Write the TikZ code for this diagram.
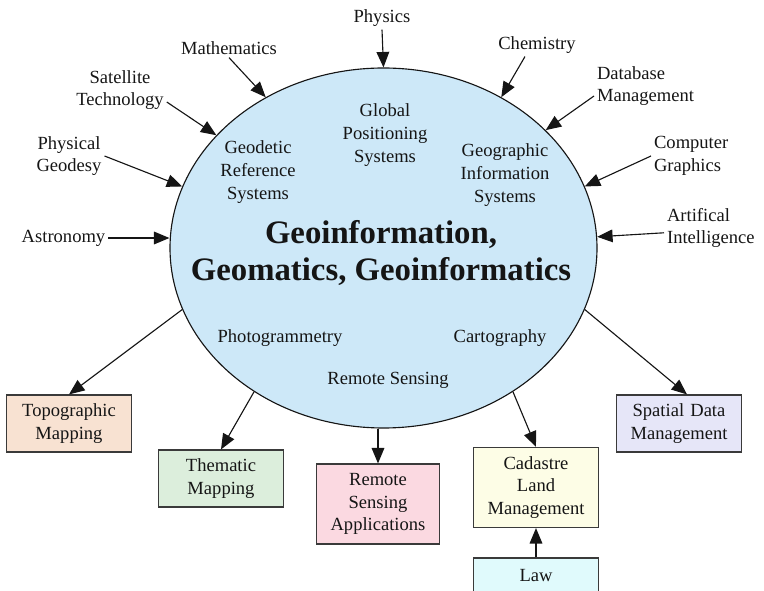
\documentclass[tikz,border=0pt]{standalone}
\usepackage{fontspec}
\setmainfont{Liberation Serif}
\usetikzlibrary{arrows.meta,shapes.geometric,positioning}
\definecolor{ink}{HTML}{151515}
\definecolor{line}{HTML}{3A3A3A}
\definecolor{corefill}{HTML}{CDE8F8}
\definecolor{topofill}{HTML}{F8E2D2}
\definecolor{themafill}{HTML}{DCEEDC}
\definecolor{rsafill}{HTML}{FBD9E1}
\definecolor{cadfill}{HTML}{FDFDE6}
\definecolor{sdmfill}{HTML}{E6E6F8}
\definecolor{lawfill}{HTML}{E0FAFC}

\begin{document}
\begin{tikzpicture}[
  font=\fontsize{13.2}{16.2}\selectfont,
  text=ink,
  label/.style={align=center, inner sep=2pt},
  leftlabel/.style={align=left, inner sep=2pt, anchor=west},
  inner/.style={align=center, inner sep=2pt},
  core/.style={
    ellipse,
    draw=ink,
    thick,
    fill=corefill,
    inner sep=0pt,
    minimum width=10.675cm,
    minimum height=9cm
  },
  box/.style={
    draw=line,
    thick,
    align=center,
    inner sep=3pt,
    text width=2.9cm,
    minimum height=1.425cm,
    fill=#1
  },
  arrow/.style={-{Triangle[length=11pt,width=9pt]}, thick, draw=ink}
]
\useasboundingbox (0,0) rectangle (19.1,14.775);
\clip (0,0) rectangle (19.1,14.775);

% Core ellipse and its fields
\node[core] (geo) at (9.5875,8.575) {};
\node[inner, font=\fontsize{23.3}{26}\selectfont\bfseries] (title) at (9.525,8.45) {Geoinformation,\\Geomatics, Geoinformatics};
\node[inner] (gps) at (9.625,11.4) {Global\\Positioning\\Systems};
\node[inner] (grs) at (6.45,10.475) {Geodetic\\Reference\\Systems};
\node[inner] (gis) at (12.625,10.4) {Geographic\\Information\\Systems};
\node[inner] (photo) at (7.0,6.325) {Photogrammetry};
\node[inner] (rs) at (9.7,5.275) {Remote Sensing};
\node[inner] (carto) at (12.5,6.325) {Cartography};

% Contributing disciplines
\node[label] (phys) at (9.55,14.325) {Physics};
\node[label] (math) at (5.725,13.575) {Mathematics};
\node[label] (sat) at (3.0,12.525) {Satellite\\Technology};
\node[label] (pgeo) at (1.725,10.875) {Physical\\Geodesy};
\node[label] (astro) at (1.5875,8.825) {Astronomy};
\node[label] (chem) at (13.425,13.65) {Chemistry};
\node[leftlabel] (db) at (14.85,12.625) {Database\\Management};
\node[leftlabel] (cg) at (16.275,10.875) {Computer\\Graphics};
\node[leftlabel] (ai) at (16.6,9.075) {Artifical\\Intelligence};

\draw[arrow] (phys.south) -- (geo.north);
\draw[arrow] (math.south) -- (geo.128);
\draw[arrow] ([yshift=-0.3cm]sat.east) -- (geo.146);
\draw[arrow] (pgeo.east) -- (geo.163);
\draw[arrow] (astro.east) -- (astro.east -| geo.west);
\draw[arrow] ([xshift=-0.3cm]chem.south) -- (geo.52);
\draw[arrow] ([yshift=-0.25cm]db.west) -- (geo.36);
\draw[arrow] (cg.west) -- (geo.17);
\draw[arrow] ([yshift=-0.12cm]ai.west) -- (geo.3);

% Application boxes
\node[box=topofill] (topo) at (1.725,4.1875) {Topographic\\Mapping};
\node[box=themafill] (thema) at (5.525,2.8125) {Thematic\\Mapping};
\node[box=rsafill, text width=2.85cm, minimum height=2cm] (rsa) at (9.45,2.175) {Remote\\Sensing\\Applications};
\node[box=cadfill, minimum height=2cm] (cad) at (13.4,2.5875) {Cadastre\\Land\\Management};
\node[box=sdmfill] (sdm) at (16.975,4.1875) {Spatial Data\\Management};
\node[box=lawfill, minimum height=0.9cm] (law) at (13.4,0.375) {Law};

\draw[arrow] (geo.197) -- (topo.north);
\draw[arrow] (geo.228) -- (thema.north);
\draw[arrow] (geo.south -| rsa.north) -- (rsa.north);
\draw[arrow] (geo.312) -- (cad.north);
\draw[arrow] (geo.343) -- ([xshift=0.2cm]sdm.north);
\draw[arrow] (law.north) -- (cad.south);

\end{tikzpicture}
\end{document}
